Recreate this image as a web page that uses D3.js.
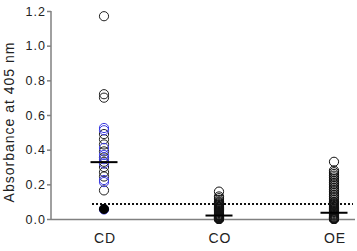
<!DOCTYPE html>
<html><head><meta charset="utf-8">
<script src="https://cdn.jsdelivr.net/npm/d3@7"></script>
<style>
html,body{margin:0;padding:0;background:#fff;}
svg{display:block;font-family:"Liberation Sans",Arial,sans-serif;}
</style></head>
<body><svg id="c" width="357" height="251"></svg>
<script>
const categories = ["CD", "CO", "OE"];
const yTicks = [0.0, 0.2, 0.4, 0.6, 0.8, 1.0, 1.2];
const cdBlack = [1.17, 0.72, 0.70, 0.49, 0.46, 0.43, 0.39, 0.355, 0.33, 0.30, 0.27, 0.245, 0.165];
const cdBlue = [0.525, 0.512, 0.41, 0.37, 0.345, 0.32, 0.225, 0.213, 0.055];
const cdFilled = [0.058];
const coVals = [0.158, 0.13, 0.12, 0.11, 0.10, 0.095, 0.09, 0.085, 0.08, 0.075, 0.07, 0.065, 0.06, 0.055, 0.05, 0.045, 0.04, 0.035, 0.03, 0.025, 0.022, 0.02, 0.018, 0.015, 0.012, 0.01, 0.008, 0.006, 0.004, 0.002, 0.0, 0.0, 0.0];
const oeVals = [0.33, 0.28, 0.27, 0.26, 0.25, 0.24, 0.23, 0.22, 0.21, 0.20, 0.19, 0.18, 0.17, 0.16, 0.15, 0.14, 0.13, 0.12, 0.11, 0.10, 0.095, 0.09, 0.085, 0.08, 0.075, 0.07, 0.065, 0.06, 0.055, 0.05, 0.045, 0.04, 0.036, 0.03, 0.025, 0.02, 0.015, 0.01, 0.008, 0.005, 0.003, 0.0, 0.0, 0.0];
const medians = [0.328, 0.02, 0.036];
const cutoff = 0.087;

const svg = d3.select("#c");
const y = d3.scaleLinear().domain([0, 1.2]).range([219, 11]);
const x = d3.scalePoint().domain(categories).range([104, 334]);
const axisColor = "#808080";

// y axis
const ya = svg.append("g").attr("transform", "translate(51,0)")
  .call(d3.axisLeft(y).tickValues(yTicks).tickFormat(d3.format(".1f")).tickSize(4).tickPadding(1));
ya.select(".domain").attr("stroke", axisColor).attr("stroke-width", 1.5).attr("d", "M0," + y(1.2) + "V" + y(0));
ya.selectAll(".tick line").attr("stroke", axisColor).attr("stroke-width", 1.5);
ya.selectAll(".tick text").attr("font-size", 12.5).attr("letter-spacing", 1).attr("fill", "#222");

// x axis
const xa = svg.append("g").attr("transform", "translate(0,219.5)")
  .call(d3.axisBottom(x).tickSize(0).tickPadding(14));
xa.select(".domain").attr("stroke", axisColor).attr("stroke-width", 1.5).attr("d", "M51,0H355");
xa.selectAll(".tick text").attr("font-size", 14).attr("letter-spacing", 1).attr("fill", "#222")
  .attr("dx", 0.5);

svg.append("text").attr("transform", "translate(13.5,122) rotate(-90)")
  .attr("text-anchor", "middle").attr("font-size", 14).attr("letter-spacing", 1).attr("fill", "#222")
  .text("Absorbance at 405 nm");

// cutoff dotted line
svg.append("line").attr("x1", 92).attr("x2", 353).attr("y1", y(cutoff)).attr("y2", y(cutoff))
  .attr("stroke", "#111").attr("stroke-width", 2).attr("stroke-dasharray", "2,2");

const r = 4.6;
function dots(vals, cat, color, fill) {
  svg.append("g").selectAll("circle").data(vals).join("circle")
    .attr("cx", x(cat)).attr("cy", d => y(d)).attr("r", r)
    .attr("fill", fill).attr("stroke", color).attr("stroke-width", 1);
}
dots(cdBlack, "CD", "#222", "none");
dots(cdBlue, "CD", "#3a3ae0", "none");
dots(cdFilled, "CD", "#000", "#000");
dots(coVals, "CO", "#111", "none");
dots(oeVals, "OE", "#111", "none");

// medians
svg.append("g").selectAll("line").data(medians).join("line")
  .attr("x1", (d, i) => x(categories[i]) - 13.5).attr("x2", (d, i) => x(categories[i]) + 13.5)
  .attr("y1", d => y(d)).attr("y2", d => y(d))
  .attr("stroke", "#000").attr("stroke-width", 2);
</script></body></html>
